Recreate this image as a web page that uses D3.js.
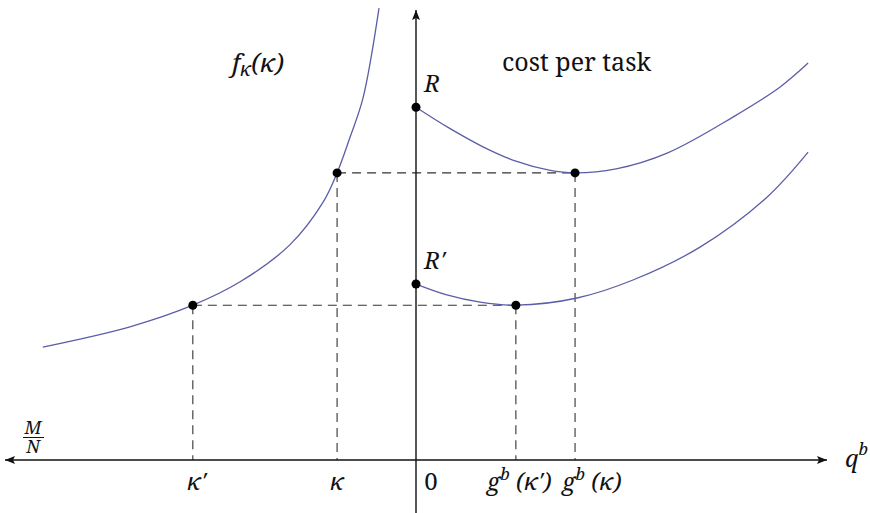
<!DOCTYPE html>
<html>
<head>
<meta charset="utf-8">
<script src="https://cdn.jsdelivr.net/npm/d3@7"></script>
<style>
  html, body { margin: 0; padding: 0; background: #fff; }
  svg { display: block; }
</style>
</head>
<body>
<svg id="chart" width="870" height="513"></svg>
<script>
// chart units: x = 0 on the vertical axis, y = 0 on the horizontal axis
const fKappa = [
  [-9.08, 2.51], [-6.96, 2.96], [-5.43, 3.44], [-4.28, 3.96], [-3.07, 4.78],
  [-2.26, 5.73], [-1.92, 6.38], [-1.61, 7.16], [-1.29, 8.04], [-0.9, 10.04]
];
const costR = [
  [0, 7.84], [0.8, 7.38], [1.63, 6.96], [2.43, 6.64], [3.24, 6.44], [3.87, 6.38],
  [4.87, 6.47], [6.11, 6.82], [7.71, 7.62], [8.86, 8.29], [9.54, 8.82]
];
const costRPrime = [
  [0, 3.91], [0.75, 3.67], [1.56, 3.51], [2.43, 3.44], [3.92, 3.6],
  [5.28, 4.0], [6.91, 4.73], [8.54, 5.84], [9.54, 6.84]
];

const kappaPrime = -5.43;
const kappa = -1.92;
const gKappaPrime = 2.43;
const gKappa = 3.87;
const levelKappa = 6.38;
const levelKappaPrime = 3.44;
const rValue = 7.84;
const rPrimeValue = 3.91;

const dots = [
  [0, rValue], [0, rPrimeValue],
  [kappa, levelKappa], [gKappa, levelKappa],
  [kappaPrime, levelKappaPrime], [gKappaPrime, levelKappaPrime]
];

const height = 513;
const ink = '#111';
const serif = 'Noto Serif';

const x = d3.scaleLinear().domain([-10, 10]).range([5, 827]);
const y = d3.scaleLinear().domain([0, 10]).range([460, 10]);

const svg = d3.select('#chart');

const defs = svg.append('defs');
defs.append('marker')
  .attr('id', 'arrow')
  .attr('viewBox', '0 0 10 8')
  .attr('markerWidth', 10)
  .attr('markerHeight', 8)
  .attr('refX', 10)
  .attr('refY', 4)
  .attr('markerUnits', 'userSpaceOnUse')
  .attr('orient', 'auto')
  .append('path')
  .attr('d', 'M0,0 L10,4 L0,8 L2,4 Z')
  .attr('fill', ink);

// dashed guides
const guides = [
  [[kappa, levelKappa], [gKappa, levelKappa]],
  [[kappaPrime, levelKappaPrime], [gKappaPrime, levelKappaPrime]],
  [[kappa, levelKappa], [kappa, 0]],
  [[gKappa, levelKappa], [gKappa, 0]],
  [[kappaPrime, levelKappaPrime], [kappaPrime, 0]],
  [[gKappaPrime, levelKappaPrime], [gKappaPrime, 0]]
];
svg.append('g')
  .attr('stroke', '#333')
  .attr('stroke-width', 1.1)
  .attr('stroke-dasharray', '9 6')
  .selectAll('line')
  .data(guides)
  .join('line')
  .attr('x1', (d) => x(d[0][0]))
  .attr('y1', (d) => y(d[0][1]))
  .attr('x2', (d) => x(d[1][0]))
  .attr('y2', (d) => y(d[1][1]));

// axes
const axes = svg.append('g').attr('stroke', ink).attr('stroke-width', 1.4);
axes.append('line')
  .attr('x1', x(0)).attr('y1', y(0))
  .attr('x2', x(10)).attr('y2', y(0))
  .attr('marker-end', 'url(#arrow)');
axes.append('line')
  .attr('x1', x(0)).attr('y1', y(0))
  .attr('x2', x(-10)).attr('y2', y(0))
  .attr('marker-end', 'url(#arrow)');
axes.append('line')
  .attr('x1', x(0)).attr('y1', height)
  .attr('x2', x(0)).attr('y2', y(10))
  .attr('marker-end', 'url(#arrow)');

// curves
const line = d3.line()
  .x((d) => x(d[0]))
  .y((d) => y(d[1]))
  .curve(d3.curveCatmullRom.alpha(0.5));

svg.append('g')
  .attr('fill', 'none')
  .attr('stroke', '#5b5ea6')
  .attr('stroke-width', 1.3)
  .selectAll('path')
  .data([fKappa, costR, costRPrime])
  .join('path')
  .attr('d', line);

// dots
svg.append('g')
  .selectAll('circle')
  .data(dots)
  .join('circle')
  .attr('cx', (d) => x(d[0]))
  .attr('cy', (d) => y(d[1]))
  .attr('r', 4.5)
  .attr('fill', '#000');

// text helper
const fs = 24;
const sub = 17;
const labels = svg.append('g');
function label(px, py, italic, size) {
  return labels.append('text')
    .attr('x', px)
    .attr('y', py)
    .attr('font-family', serif)
    .attr('font-style', italic ? 'italic' : 'normal')
    .attr('font-size', size || fs)
    .attr('fill', ink);
}

// tick labels
const baseY = y(0) + 30;
label(x(kappaPrime) + 4, baseY, true).attr('text-anchor', 'middle').text('κ′');
label(x(kappa), baseY, true).attr('text-anchor', 'middle').text('κ');
label(x(0) + 15, baseY, false).attr('text-anchor', 'middle').text('0');

function gLabel(xPos, arg) {
  const t = label(xPos, baseY, true);
  t.append('tspan').text('g');
  t.append('tspan').attr('dy', -10).attr('font-size', sub).text('b');
  t.append('tspan').attr('dy', 10).text(' (' + arg + ')');
}
gLabel(x(gKappaPrime) - 29, 'κ′');
gLabel(x(gKappa) - 13, 'κ');

// axis names
const qb = label(x(10) + 18, y(0) + 7, true);
qb.append('tspan').text('q');
qb.append('tspan').attr('dy', -12).attr('font-size', sub).text('b');

const frac = label(33, y(0) - 26, true, 18).attr('text-anchor', 'middle');
frac.append('tspan').text('M');
frac.append('tspan').attr('x', 33).attr('dy', 19).text('N');
labels.append('line')
  .attr('x1', 23).attr('x2', 44)
  .attr('y1', y(0) - 22.5).attr('y2', y(0) - 22.5)
  .attr('stroke', ink).attr('stroke-width', 1);

// curve labels
const fl = label(232, 72, true, 26);
fl.append('tspan').text('f');
fl.append('tspan').attr('dy', 4).attr('font-size', 19).text('κ');
fl.append('tspan').attr('dy', -4).text('(κ)');

label(502, 71, false, 25).text('cost per task');

label(x(0) + 8, y(rValue) - 15, true).text('R');
label(x(0) + 8, y(rPrimeValue) - 15, true).text('R′');
</script>
</body>
</html>
